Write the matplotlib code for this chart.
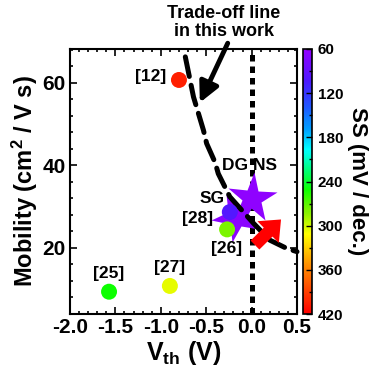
import matplotlib
matplotlib.use("Agg")
import matplotlib.pyplot as plt
import numpy as np
from matplotlib.colors import LinearSegmentedColormap, Normalize
from matplotlib.markers import MarkerStyle
from matplotlib.transforms import Affine2D
from matplotlib.ticker import MultipleLocator

plt.rcParams['font.family'] = ['Liberation Sans', 'DejaVu Sans']
plt.rcParams['font.weight'] = 'bold'
plt.rcParams['mathtext.fontset'] = 'custom'
plt.rcParams['mathtext.rm'] = 'Liberation Sans:bold'
plt.rcParams['mathtext.bf'] = 'Liberation Sans:bold'
plt.rcParams['mathtext.it'] = 'Liberation Sans:bold'
plt.rcParams['mathtext.default'] = 'bf'

# ---- data ----
ref_labels = ['[12]', '[25]', '[27]', '[26]', '[28]']
ref_vth = [-0.80, -1.57, -0.90, -0.27, -0.24]
ref_mob = [60.7, 9.4, 10.8, 24.5, 28.7]
ref_ss = [405, 250, 305, 278, 100]

star_labels = ['SG', 'DG NS']
star_vth = [-0.165, 0.0]
star_mob = [27.6, 32.0]
star_ss = [66, 64]

curve_vth = [-0.73, -0.64, -0.53, -0.495, -0.40, -0.367, -0.24, 0.02, 0.20, 0.386, 0.50]
curve_mob = [66.3, 56.6, 48.5, 45.3, 40.6, 38.0, 32.4, 26.0, 21.9, 19.9, 19.1]

arrow_tail = (0.037, 20.7)
arrow_tip = (0.324, 26.9)

ss_ticks = [60, 120, 180, 240, 300, 360, 420]
x_ticks = [-2.0, -1.5, -1.0, -0.5, 0.0, 0.5]
y_ticks = [20, 40, 60]

cmap = LinearSegmentedColormap.from_list('origin_rainbow', [
    (0.00, (0.58, 0.00, 1.00)),
    (0.12, (0.30, 0.10, 1.00)),
    (0.22, (0.12, 0.35, 1.00)),
    (0.30, (0.00, 0.62, 1.00)),
    (0.38, (0.00, 1.00, 1.00)),
    (0.46, (0.00, 1.00, 0.45)),
    (0.53, (0.05, 1.00, 0.00)),
    (0.62, (0.55, 0.95, 0.00)),
    (0.70, (1.00, 1.00, 0.00)),
    (0.82, (1.00, 0.55, 0.00)),
    (1.00, (1.00, 0.00, 0.00)),
])
norm = Normalize(60, 420)

fig = plt.figure(figsize=(3.73, 3.77), dpi=100)
ax = fig.add_axes([70/373, 1-314/377, 227/373, 265/377])
cax = fig.add_axes([303/373, 1-314/377, 9/373, 265/377])

ax.set_xlim(-2.0, 0.5)
ax.set_ylim(4, 68.2)

# dotted line at 0
ax.axvline(0.0, color='black', lw=3.6, linestyle=(0, (1.3, 1.0)), zorder=1)

# stars
for sx, sy, ss, ang in zip(star_vth, star_mob, star_ss, [25, -5]):
    m = MarkerStyle('*', transform=Affine2D().rotate_deg(ang))
    ax.plot([sx], [sy], marker=m, ms=37, color=cmap(norm(ss)), mec='none', zorder=2, ls='none')

# trade-off curve
ax.plot(curve_vth, curve_mob, color='black', lw=3.6, linestyle=(0, (4.0, 1.8)),
        dash_capstyle='round', zorder=3, clip_on=False)

# reference points
ax.scatter(ref_vth, ref_mob, c=ref_ss, cmap=cmap, norm=norm, s=11.5**2, edgecolors='none', zorder=4)

# labels
fs = 12.5
lab_pos = {'[12]': (-1.111, 61.6), '[25]': (-1.57, 13.7), '[27]': (-0.90, 15.3),
           '[26]': (-0.274, 19.8), '[28]': (-0.594, 27.2), 'SG': (-0.44, 31.9), 'DG NS': (-0.018, 39.9)}
for k, (tx, ty) in lab_pos.items():
    ax.text(tx, ty, k, ha='center', va='center', fontsize=fs, fontweight='bold', zorder=6)

# red arrow
ax.annotate('', xy=arrow_tip, xytext=arrow_tail,
            arrowprops=dict(arrowstyle='simple,head_length=0.65,head_width=1.1,tail_width=0.45',
                            mutation_scale=20, color='#ff0000', lw=0, shrinkA=0, shrinkB=0),
            zorder=7)

# black annotation arrow
ax.annotate('', xy=(-0.57, 55.2), xytext=(-0.263, 69.6),
            arrowprops=dict(arrowstyle='-|>,head_length=0.6,head_width=0.3', mutation_scale=20,
                            color='black', lw=3.5, shrinkA=0, shrinkB=0),
            annotation_clip=False, zorder=7)
fig.text(224/373, 1-22.5/377, 'Trade-off line\nin this work', ha='center', va='center',
         fontsize=13, fontweight='bold', linespacing=1.05)

# axes style
ax.set_xticks(x_ticks)
ax.set_xticklabels(['%.1f' % v for v in x_ticks])
ax.set_yticks(y_ticks)
ax.xaxis.set_minor_locator(MultipleLocator(0.1))
ax.yaxis.set_minor_locator(MultipleLocator(4))
ax.tick_params(which='both', direction='in', top=True, right=True, width=1.2)
ax.tick_params(which='major', length=5, labelsize=15, pad=3)
ax.tick_params(which='minor', length=2.5)
for sp in ax.spines.values():
    sp.set_linewidth(1.5)
for lab in ax.get_xticklabels() + ax.get_yticklabels():
    lab.set_fontweight('bold')

ax.set_xlabel(r'$V_{th}$ (V)', fontsize=18, fontweight='bold', labelpad=1)
ax.set_ylabel(r'Mobility (cm$^{2}$ / V s)', fontsize=17, fontweight='bold', labelpad=2)

# colorbar
sm = plt.cm.ScalarMappable(norm=norm, cmap=cmap)
cb = fig.colorbar(sm, cax=cax)
cb.set_ticks(ss_ticks)
cax.invert_yaxis()
cax.yaxis.set_minor_locator(MultipleLocator(30))
cax.tick_params(which='both', direction='in', width=1.0, labelsize=11, pad=4)
cax.tick_params(which='major', length=4)
cax.tick_params(which='minor', length=2)
cb.outline.set_linewidth(1.2)
for lab in cax.get_yticklabels():
    lab.set_fontweight('bold')
cb.set_label('SS (mV / dec.)', fontsize=16, fontweight='bold', rotation=270, labelpad=18)

fig.savefig('out.png', dpi=100)
